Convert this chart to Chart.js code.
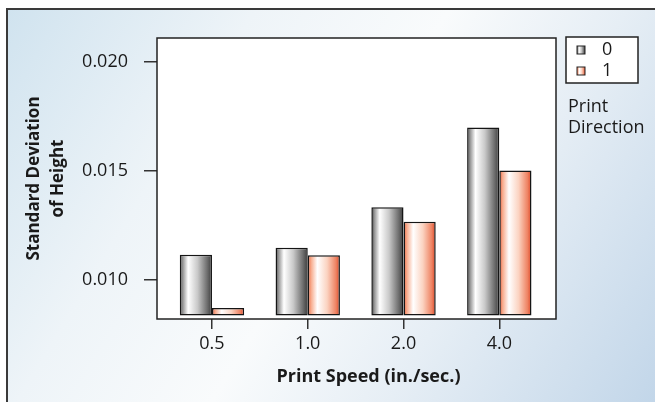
<!DOCTYPE html>
<html lang="en">
<head>
  <meta charset="UTF-8">
  <title>Standard Deviation of Height by Print Speed</title>
  <script src="https://cdn.jsdelivr.net/npm/chart.js"></script>
  <style>
    html, body {
      margin: 0;
      padding: 0;
      background: #ffffff;
    }
    canvas {
      display: block;
    }
  </style>
</head>
<body>
  <canvas id="sdChart" width="655" height="402"></canvas>

  <script>
    // data
    const speeds = ['0.5', '1.0', '2.0', '4.0'];
    const direction0 = [0.01115, 0.01147, 0.01333, 0.01699];
    const direction1 = [0.00871, 0.01113, 0.01267, 0.01502];
    const seriesNames = ['0', '1'];
    const yTicks = [0.010, 0.015, 0.020];
    const barBase = 0.00836;
    const legendTitle = ['Print', 'Direction'];
    const xTitle = 'Print Speed (in./sec.)';

    const grayStops = [[0, '#2e2e2e'], [0.08, '#8c8c8c'], [0.26, '#ffffff'], [0.55, '#c9c9c9'], [0.85, '#6e6e6e'], [1, '#3c3c3c']];
    const orangeStops = [[0, '#e85a36'], [0.1, '#f7a98a'], [0.3, '#ffffff'], [0.6, '#fbd3c1'], [0.88, '#ee8262'], [1, '#dc4424']];

    Chart.defaults.font.family = '"Open Sans", "DejaVu Sans", sans-serif';
    Chart.defaults.color = '#1a1a1a';

    function barGradient(stops) {
      return function (ctx) {
        const el = ctx.element;
        if (!el || !Number.isFinite(el.x) || !el.width) return stops[2][1];
        const left = el.x - el.width / 2;
        const g = ctx.chart.ctx.createLinearGradient(left, 0, left + el.width, 0);
        stops.forEach(s => g.addColorStop(s[0], s[1]));
        return g;
      };
    }

    // page background, outer frame, white plot area, x title and the boxed legend
    const backdrop = {
      id: 'backdrop',
      beforeDraw(chart) {
        const c = chart.ctx;
        const a = chart.chartArea;
        c.save();
        c.fillStyle = '#ffffff';
        c.fillRect(0, 0, chart.width, chart.height);
        const g = c.createLinearGradient(7, 9, chart.width, chart.height);
        g.addColorStop(0, '#d0e3ef');
        g.addColorStop(0.28, '#eef4f8');
        g.addColorStop(0.5, '#f9fbfc');
        g.addColorStop(0.7, '#e6eef5');
        g.addColorStop(1, '#c2d6e9');
        c.fillStyle = g;
        c.fillRect(7, 9, chart.width - 7, chart.height - 9);
        c.strokeStyle = '#3a3a3a';
        c.lineWidth = 2;
        c.beginPath();
        c.moveTo(7, chart.height);
        c.lineTo(7, 9);
        c.lineTo(chart.width, 9);
        c.stroke();
        c.fillStyle = '#ffffff';
        c.fillRect(a.left, a.top, a.right - a.left, a.bottom - a.top);
        c.restore();
      },
      afterDraw(chart) {
        const c = chart.ctx;
        const a = chart.chartArea;
        c.save();
        c.strokeStyle = '#222222';
        c.lineWidth = 1.5;
        c.strokeRect(a.left, a.top, a.right - a.left, a.bottom - a.top);

        // x axis title sits a little right of the plot centre in the original
        c.fillStyle = '#1a1a1a';
        c.font = 'bold 18px "Open Sans", sans-serif';
        c.textAlign = 'center';
        c.textBaseline = 'middle';
        c.fillText(xTitle, (a.left + a.right) / 2 + 12, a.bottom + 58);

        const bx = a.right + 10, by = a.top - 1, bw = 72, bh = 46;
        c.fillStyle = '#ffffff';
        c.fillRect(bx, by, bw, bh);
        c.strokeStyle = '#222222';
        c.lineWidth = 1.5;
        c.strokeRect(bx, by, bw, bh);
        const stopSets = [grayStops, orangeStops];
        c.font = '18px "Open Sans", sans-serif';
        c.textAlign = 'left';
        chart.data.datasets.forEach((ds, i) => {
          const cy = by + 13 + i * 21;
          const sx = bx + 11, sw = 8;
          const g = c.createLinearGradient(sx, 0, sx + sw, 0);
          stopSets[i].forEach(s => g.addColorStop(s[0], s[1]));
          c.fillStyle = g;
          c.fillRect(sx, cy - 4, sw, 8);
          c.strokeStyle = '#222222';
          c.lineWidth = 1;
          c.strokeRect(sx, cy - 4, sw, 8);
          c.fillStyle = '#1a1a1a';
          c.fillText(ds.label, bx + 36, cy);
        });
        legendTitle.forEach((t, i) => {
          c.fillText(t, bx + 2, by + 70 + i * 21);
        });
        c.restore();
      }
    };

    const ctx = document.getElementById('sdChart').getContext('2d');
    const chart = new Chart(ctx, {
      type: 'bar',
      data: {
        datasets: [
          {
            label: seriesNames[0],
            data: direction0.map((v, i) => ({ x: i, y: v })),
            backgroundColor: barGradient(grayStops),
            borderColor: '#151515',
            borderWidth: 1.5,
            borderSkipped: false,
            base: barBase
          },
          {
            label: seriesNames[1],
            data: direction1.map((v, i) => ({ x: i, y: v })),
            backgroundColor: barGradient(orangeStops),
            borderColor: '#151515',
            borderWidth: 1.5,
            borderSkipped: false,
            base: barBase
          }
        ]
      },
      options: {
        responsive: false,
        animation: false,
        events: [],
        categoryPercentage: 0.672,
        barPercentage: 1.0,
        layout: {
          padding: { top: 38, right: 99, bottom: 0, left: 0 }
        },
        plugins: {
          legend: { display: false },
          tooltip: { enabled: false }
        },
        scales: {
          x: {
            type: 'linear',
            offset: false,
            min: -0.574,
            max: 3.592,
            afterBuildTicks: scale => {
              scale.ticks = speeds.map((s, i) => ({ value: i }));
            },
            afterFit: scale => {
              scale.height = 83;
            },
            ticks: {
              font: { size: 18 },
              padding: 4,
              color: '#1a1a1a',
              callback: (v) => speeds[v]
            },
            grid: {
              offset: false,
              drawOnChartArea: false,
              drawTicks: true,
              tickLength: 10,
              color: '#333333',
              tickColor: '#333333',
              lineWidth: 1.5,
              tickWidth: 1.5
            },
            border: { display: false },
            title: { display: false }
          },
          y: {
            min: 0.0082,
            max: 0.0211,
            afterBuildTicks: scale => {
              scale.ticks = yTicks.map(v => ({ value: v }));
            },
            afterFit: scale => {
              scale.width = 157;
            },
            ticks: {
              font: { size: 18 },
              padding: 16,
              color: '#1a1a1a',
              callback: (v) => v.toFixed(3)
            },
            grid: {
              drawOnChartArea: false,
              drawTicks: true,
              tickLength: 13,
              color: '#333333',
              lineWidth: 1.5
            },
            border: { display: false },
            title: {
              display: true,
              text: ['Standard Deviation', 'of Height'],
              font: { size: 17, weight: 'bold', lineHeight: 1.4 },
              color: '#1a1a1a',
              padding: { top: 22, bottom: 0 }
            }
          }
        }
      },
      plugins: [backdrop]
    });

    // second pass so the bar gradients follow the laid-out bars
    chart.update('none');
  </script>
</body>
</html>
